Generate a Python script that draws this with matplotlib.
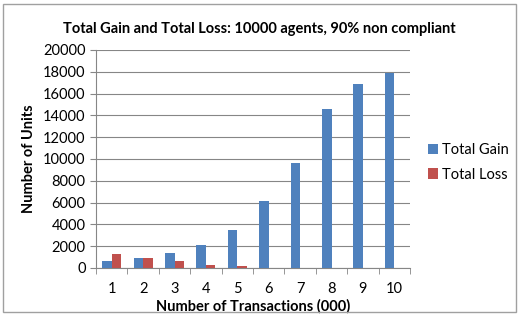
import matplotlib.pyplot as plt
import numpy as np

# data
transactions = [1, 2, 3, 4, 5, 6, 7, 8, 9, 10]
total_gain = [600, 900, 1350, 2150, 3500, 6150, 9600, 14600, 16900, 17900]
total_loss = [1300, 900, 600, 300, 200, 30, 15, 10, 5, 5]

plt.rcParams['font.family'] = ['Lato', 'DejaVu Sans']

fig = plt.figure(figsize=(5.19, 3.16), dpi=100)
ax = fig.add_axes([0.185, 0.152, 0.605, 0.69])

x = np.arange(len(transactions))
w = 0.3
ax.bar(x - w / 2, total_gain, w, color='#4F81BD', label='Total Gain', zorder=3)
ax.bar(x + w / 2, total_loss, w, color='#C0504D', label='Total Loss', zorder=3)

ax.set_xlim(-0.5, len(transactions) - 0.5)
ax.set_ylim(0, 20000)
ax.set_yticks(range(0, 20001, 2000))
ax.set_xticks(x)
ax.set_xticklabels(transactions)
ax.set_xticks(np.arange(-0.5, len(transactions), 1), minor=True)
ax.tick_params(axis='x', which='major', length=0, labelsize=10.5, pad=10)
ax.tick_params(axis='x', which='minor', length=4, color='#868686')
ax.tick_params(axis='y', length=4, color='#868686', labelsize=10.5)

ax.grid(axis='y', color='#868686', linewidth=0.8, zorder=0)
for s in ['top', 'right']:
    ax.spines[s].set_visible(False)
for s in ['left', 'bottom']:
    ax.spines[s].set_color('#868686')

ax.set_xlabel('Number of Transactions (000)', fontsize=10.5, fontweight='bold', labelpad=2)
ax.set_ylabel('Number of Units', fontsize=10.5, fontweight='bold', labelpad=5)
fig.suptitle('Total Gain and Total Loss: 10000 agents, 90% non compliant',
             fontsize=10.5, fontweight='bold', y=0.93)

ax.legend(loc='center left', bbox_to_anchor=(1.015, 0.485), frameon=False,
          fontsize=10.5, handlelength=0.7, handleheight=0.7, labelspacing=0.75,
          handletextpad=0.3)

# outer frame like the chart area border
fig.patches.append(plt.Rectangle((0.006, 0.012), 0.988, 0.976, transform=fig.transFigure,
                                 fill=False, edgecolor='#a0a0a0', linewidth=1))

fig.savefig('out.png', dpi=100)
